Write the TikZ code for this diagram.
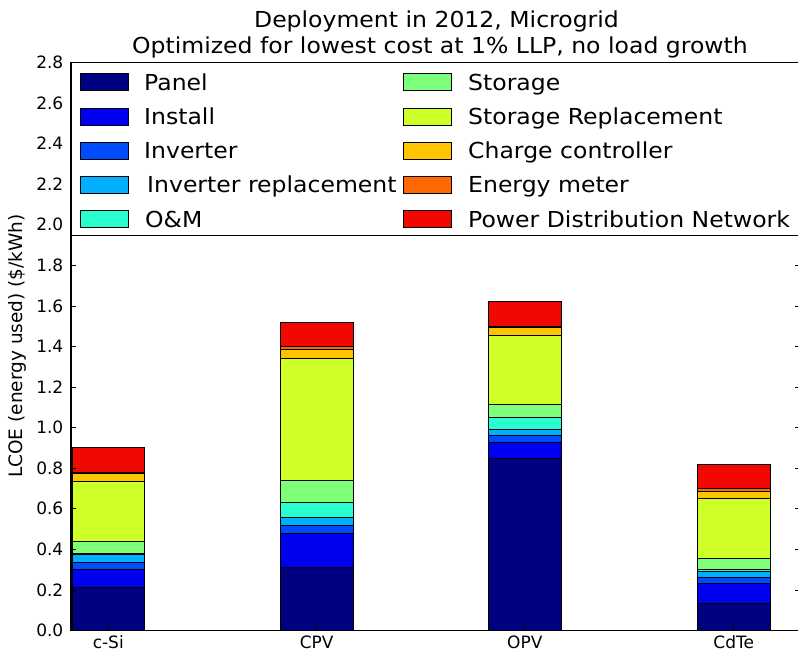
\documentclass[tikz,border=0pt]{standalone}
\usepackage{fontspec}
\setmainfont{DejaVu Sans}
\newfontfamily\widefont[FakeStretch=1.07]{DejaVu Sans}
% jet colour map, one colour per cost component
\definecolor{cPanel}{HTML}{000080}
\definecolor{cInstall}{HTML}{0000F1}
\definecolor{cInv}{HTML}{004CFF}
\definecolor{cInvR}{HTML}{00B0FF}
\definecolor{cOM}{HTML}{29FFCE}
\definecolor{cSto}{HTML}{7DFF7A}
\definecolor{cStoR}{HTML}{CEFF29}
\definecolor{cCC}{HTML}{FFC400}
\definecolor{cEM}{HTML}{FF6800}
\definecolor{cPDN}{HTML}{F10800}
\tikzset{
  spine/.style={line width=1.2pt, black},
  tickmark/.style={line width=0.8pt, black},
  seg/.style={draw=black, line width=0.9pt},
  ticklab/.style={font=\fontsize{17}{20}\selectfont, inner sep=0pt},
  titletext/.style={font=\widefont\fontsize{22}{26}\selectfont, inner sep=0pt, anchor=base},
  legtext/.style={font=\widefont\fontsize{22}{26}\selectfont, inner sep=0pt, anchor=base west},
  legpatch/.style={draw=black, line width=0.9pt, minimum width=48pt, minimum height=17pt, inner sep=0pt},
}
% stacked bar: #1 = left edge (px), #2 = list colour/cumulative top
\newcommand\stackbar[2]{%
  \foreach \c/\t [remember=\t as \b (initially 0)] in {#2} {
    \filldraw[seg, fill=\c] (#1,\b) rectangle (#1+72.5,\t);
  }%
}
\begin{document}
\begin{tikzpicture}[x=1pt, y=-1pt]
\useasboundingbox (0,0) rectangle (798,655);

% title
\node[titletext] (title1) at (436.5,27.5) {Deployment in 2012, Microgrid};
\node[titletext] (title2) at (440,53.3) {Optimized for lowest cost at 1\% LLP, no load growth};

% data area: x in px, y in $/kWh
\begin{scope}[shift={(0,630.5)}, y=202.857pt]
  \stackbar{72}{cPanel/0.210, cInstall/0.302, cInv/0.337, cInvR/0.373, cOM/0.381, cSto/0.440, cStoR/0.736, cCC/0.772, cEM/0.780, cPDN/0.904}
  \stackbar{280.5}{cPanel/0.309, cInstall/0.480, cInv/0.518, cInvR/0.555, cOM/0.629, cSto/0.739, cStoR/1.339, cCC/1.384, cEM/1.400, cPDN/1.520}
  \stackbar{488.5}{cPanel/0.846, cInstall/0.928, cInv/0.961, cInvR/0.991, cOM/1.049, cSto/1.113, cStoR/1.454, cCC/1.492, cEM/1.500, cPDN/1.623}
  \stackbar{697.5}{cPanel/0.132, cInstall/0.230, cInv/0.263, cInvR/0.291, cOM/0.299, cSto/0.353, cStoR/0.653, cCC/0.686, cEM/0.698, cPDN/0.821}

  % y ticks on both sides
  \foreach \v in {0.2,0.4,0.6,0.8,1.0,1.2,1.4,1.6,1.8} {
    \draw[tickmark] (71,\v) -- ++(5,0);
    \draw[tickmark] (800,\v) -- ++(-5,0);
  }
  % y tick labels
  \foreach \v [count=\i] in {0.0,0.2,0.4,0.6,0.8,1.0,1.2,1.4,1.6,1.8,2.0,2.2,2.4,2.6,2.8}
    \node[ticklab, anchor=east] (ytick\i) at (63.5,\v) {\v};
  % x ticks and labels
  \foreach \x/\lab [count=\i] in {108.25/c-Si, 316.75/CPV, 524.75/OPV, 733.75/CdTe} {
    \draw[tickmark] (\x,0) -- ++(0,0.025);
    \node[ticklab, anchor=base] (xtick\i) at (\x,-0.0886) {\lab};
  }
\end{scope}

% axes spines
\draw[spine] (71,62.5) -- (71,630.5) -- (800,630.5) -- (800,62.5);

% legend
\draw[line width=1pt, fill=white] (71,62.5) rectangle (806,236);
\foreach \c/\lab/\y/\dx [count=\i] in {
  cPanel/Panel/82.3/0, cInstall/Install/116.5/0, cInv/Inverter/150.8/0,
  cInvR/Inverter replacement/185/3, cOM/O\&M/219.2/1} {
  \node[legpatch, fill=\c] (lpl\i) at (104,\y) {};
  \node[legtext] (ltl\i) at (144+\dx,\y+8) {\lab};
}
\foreach \c/\lab/\y [count=\i] in {
  cSto/Storage/82.3, cStoR/Storage Replacement/116.5, cCC/Charge controller/150.8,
  cEM/Energy meter/185, cPDN/Power Distribution Network/219.2} {
  \node[legpatch, fill=\c] (lpr\i) at (427.5,\y) {};
  \node[legtext] (ltr\i) at (468,\y+8) {\lab};
}
\draw[spine] (71,62.5) -- (800,62.5);

% y axis label
\node[font=\fontsize{18.5}{22}\selectfont, rotate=90, inner sep=0pt] (ylab) at (17,346) {LCOE (energy used) (\$/kWh)};
\end{tikzpicture}
\end{document}
